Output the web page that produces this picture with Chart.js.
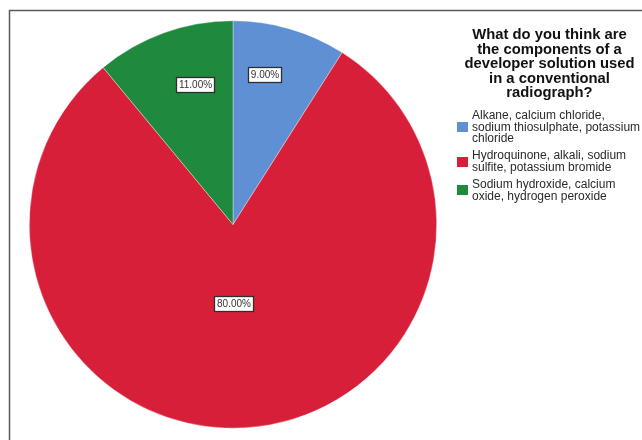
<!DOCTYPE html>
<html>
<head>
<meta charset="utf-8">
<script src="https://cdn.jsdelivr.net/npm/chart.js@4"></script>
<style>
  html, body { margin: 0; padding: 0; background: #ffffff; }
  #wrap { position: relative; width: 642px; height: 440px; }
</style>
</head>
<body>
<div id="wrap"><canvas id="chart" width="642" height="440"></canvas></div>
<script>
// Answer options (one array of lines per option) and the share of respondents (%)
const categories = [
  ['Alkane, calcium chloride,', 'sodium thiosulphate, potassium', 'chloride'],
  ['Hydroquinone, alkali, sodium', 'sulfite, potassium bromide'],
  ['Sodium hydroxide, calcium', 'oxide, hydrogen peroxide']
];
const percentages = [9, 80, 11];
const sliceColors = ['#5f90d3', '#d81f3a', '#1f8a3e'];
const legendTitle = [
  'What do you think are',
  'the components of a',
  'developer solution used',
  'in a conventional',
  'radiograph?'
];

const FONT = '"Liberation Sans", Arial, Helvetica, sans-serif';

// Label placement inside each slice: fraction of radius and angular shift (degrees)
const labelRadius = [0.75, 0.39, 0.71];
const labelShift = [-4, 3, 4.6];

const framePlugin = {
  id: 'frame',
  beforeDraw(chart) {
    const ctx = chart.ctx;
    ctx.save();
    ctx.strokeStyle = '#5a5a5a';
    ctx.lineWidth = 1.5;
    ctx.beginPath();
    ctx.moveTo(9.5, 440);
    ctx.lineTo(9.5, 10.5);
    ctx.lineTo(642, 10.5);
    ctx.stroke();
    ctx.restore();
  }
};

const sliceLabelPlugin = {
  id: 'sliceLabels',
  afterDatasetsDraw(chart) {
    const ctx = chart.ctx;
    const meta = chart.getDatasetMeta(0);
    const values = chart.data.datasets[0].data;
    ctx.save();
    ctx.font = '10px ' + FONT;
    ctx.textAlign = 'center';
    ctx.textBaseline = 'middle';
    meta.data.forEach((arc, i) => {
      const p = arc.getProps(['x', 'y', 'startAngle', 'endAngle', 'outerRadius'], true);
      const mid = (p.startAngle + p.endAngle) / 2 + labelShift[i] * Math.PI / 180;
      const r = p.outerRadius * labelRadius[i];
      const cx = p.x + Math.cos(mid) * r;
      const cy = p.y + Math.sin(mid) * r;
      const text = values[i].toFixed(2) + '%';
      const w = Math.round(ctx.measureText(text).width + 6);
      const h = 16;
      const bx = Math.round(cx - w / 2);
      const by = Math.round(cy - h / 2);
      ctx.fillStyle = '#ffffff';
      ctx.fillRect(bx, by, w, h);
      ctx.strokeStyle = '#2e2e2e';
      ctx.lineWidth = 1.3;
      ctx.strokeRect(bx + 0.5, by + 0.5, w - 1, h - 1);
      ctx.fillStyle = '#333333';
      ctx.fillText(text, bx + w / 2, by + h / 2 + 0.5);
    });
    ctx.restore();
  }
};

const sideLegendPlugin = {
  id: 'sideLegend',
  afterDraw(chart) {
    const ctx = chart.ctx;
    const labels = chart.data.labels;
    const colors = chart.data.datasets[0].backgroundColor;
    ctx.save();
    // title
    ctx.fillStyle = '#111111';
    ctx.font = 'bold 14.8px ' + FONT;
    ctx.textAlign = 'center';
    ctx.textBaseline = 'middle';
    legendTitle.forEach((line, i) => {
      ctx.fillText(line, 549.5, 35 + i * 14.6);
    });
    // entries
    ctx.font = '12px ' + FONT;
    ctx.textAlign = 'left';
    const lineH = 11.8;
    const gap = 5;
    let y = 115.5;
    labels.forEach((lines, i) => {
      const n = lines.length;
      const centre = y + (n - 1) * lineH / 2;
      ctx.fillStyle = colors[i];
      ctx.fillRect(457, Math.round(centre - 5), 11, 10);
      ctx.fillStyle = '#2a2a2a';
      lines.forEach((line, j) => ctx.fillText(line, 472, y + j * lineH));
      y += n * lineH + gap;
    });
    ctx.restore();
  }
};

new Chart(document.getElementById('chart'), {
  type: 'pie',
  data: {
    labels: categories,
    datasets: [{
      data: percentages,
      backgroundColor: sliceColors,
      borderColor: 'rgba(255,255,255,0.6)',
      borderWidth: 0.6
    }]
  },
  options: {
    responsive: false,
    animation: false,
    devicePixelRatio: 1,
    layout: { padding: { left: 29, top: 20, right: 205, bottom: 11 } },
    plugins: {
      legend: { display: false },
      tooltip: { enabled: false },
      title: { display: false }
    }
  },
  plugins: [framePlugin, sliceLabelPlugin, sideLegendPlugin]
});
</script>
</body>
</html>
